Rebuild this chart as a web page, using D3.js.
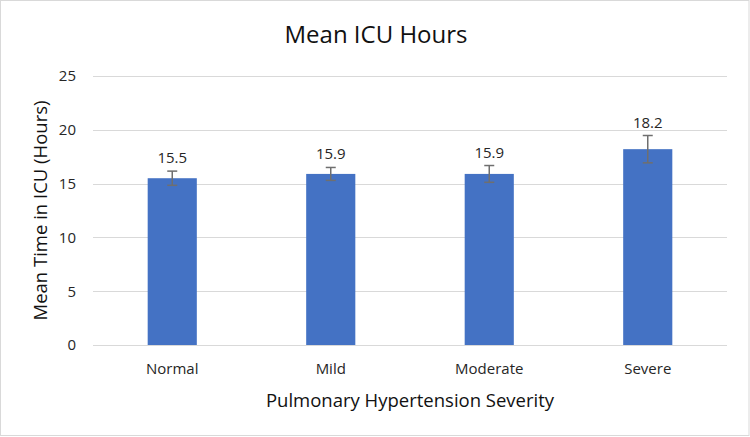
<!DOCTYPE html>
<html><head><meta charset="utf-8">
<script src="https://cdn.jsdelivr.net/npm/d3@7"></script>
<style>body{margin:0;background:#fff}svg{display:block}text{font-family:"Open Sans",sans-serif}</style>
</head><body><svg id="c" width="750" height="437"></svg>
<script>
const categories = ["Normal", "Mild", "Moderate", "Severe"];
const values = [15.5, 15.9, 15.9, 18.2];
const errors = [0.66, 0.6, 0.78, 1.27];
const yTicks = [0, 5, 10, 15, 20, 25];
const title = "Mean ICU Hours";
const xTitle = "Pulmonary Hypertension Severity";
const yTitle = "Mean Time in ICU (Hours)";

const svg = d3.select("#c");
const m = {left: 93, right: 727, top: 76, bottom: 345};
svg.append("rect").attr("x",0.5).attr("y",0.5).attr("width",748.5).attr("height",435)
  .attr("fill","#fff").attr("stroke","#d9d9d9");

const x = d3.scaleBand().domain(categories).range([m.left, m.right]).paddingInner(0.69).paddingOuter(0.345);
const y = d3.scaleLinear().domain([0, 25]).range([m.bottom, m.top]);

// gridlines
svg.append("g").selectAll("line").data(yTicks).join("line")
  .attr("x1", m.left).attr("x2", m.right)
  .attr("y1", d => Math.round(y(d))+0.5).attr("y2", d => Math.round(y(d))+0.5)
  .attr("stroke", "#d9d9d9").attr("stroke-width", 1);

// y tick labels
svg.append("g").selectAll("text").data(yTicks).join("text")
  .attr("x", 76).attr("y", d => y(d)).attr("dy", "0.36em")
  .attr("text-anchor", "end").attr("font-size", 15).attr("fill", "#262626")
  .text(d => d);

// bars
svg.append("g").selectAll("rect").data(values).join("rect")
  .attr("x", (d,i) => x(categories[i])).attr("width", x.bandwidth())
  .attr("y", d => y(d)).attr("height", d => y(0) - y(d))
  .attr("fill", "#4472c4");

// error bars
const eb = svg.append("g").attr("stroke", "#6f6f6f").attr("stroke-width", 1.5).attr("fill","none");
values.forEach((v, i) => {
  const cx = x(categories[i]) + x.bandwidth()/2;
  const t = y(v + errors[i]), b = y(v - errors[i]);
  eb.append("line").attr("x1", cx).attr("x2", cx).attr("y1", t).attr("y2", b);
  eb.append("line").attr("x1", cx-5).attr("x2", cx+5).attr("y1", t).attr("y2", t);
  eb.append("line").attr("x1", cx-5).attr("x2", cx+5).attr("y1", b).attr("y2", b);
});

// value labels
svg.append("g").selectAll("text").data(values).join("text")
  .attr("x", (d,i) => x(categories[i]) + x.bandwidth()/2)
  .attr("y", (d,i) => y(d + errors[i]) - 8)
  .attr("text-anchor", "middle").attr("font-size", 15).attr("fill", "#262626")
  .text(d => d.toFixed(1));

// category labels
svg.append("g").selectAll("text").data(categories).join("text")
  .attr("x", d => x(d) + x.bandwidth()/2).attr("y", 374)
  .attr("text-anchor", "middle").attr("font-size", 15).attr("fill", "#262626")
  .text(d => d);

// titles
svg.append("text").attr("x", 376).attr("y", 43).attr("text-anchor","middle")
  .attr("font-size", 24).attr("fill", "#111").text(title);
svg.append("text").attr("x", 410).attr("y", 407).attr("text-anchor","middle")
  .attr("font-size", 18.5).attr("fill", "#111").text(xTitle);
svg.append("text").attr("transform", "translate(47,210.5) rotate(-90)").attr("text-anchor","middle")
  .attr("font-size", 18.5).attr("fill", "#111").text(yTitle);
</script></body></html>
